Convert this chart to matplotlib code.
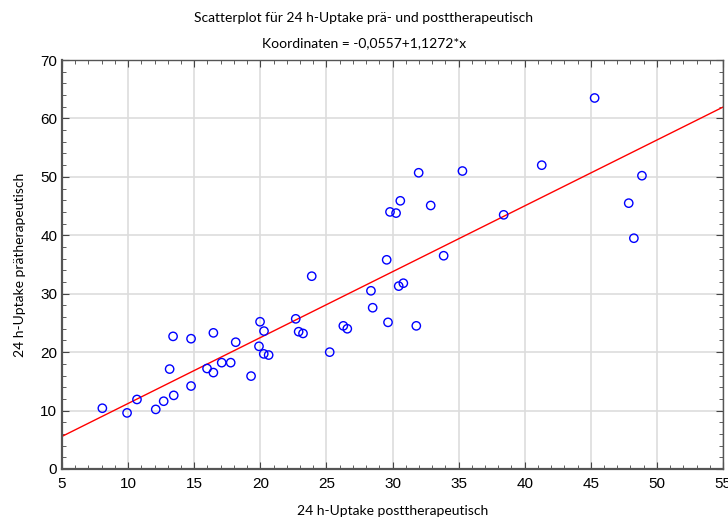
import matplotlib.pyplot as plt
import numpy as np
from matplotlib.ticker import MultipleLocator

# Daten
POST = [8.05, 9.92, 10.67, 12.09, 12.69, 13.45, 13.14, 13.40, 14.76, 14.76,
        15.97, 16.45, 16.45, 17.08, 17.76, 18.14, 19.30, 19.90, 19.98, 20.28,
        20.26, 20.63, 22.68, 22.90, 23.23, 23.89, 25.25, 26.28, 26.58, 28.37,
        28.50, 29.66, 29.56, 29.81, 30.27, 30.59, 30.47, 30.82, 31.80, 31.98,
        32.89, 33.87, 35.29, 38.41, 41.29, 45.29, 47.87, 48.26, 48.87]
PRAE = [10.4, 9.6, 11.9, 10.2, 11.6, 12.6, 17.1, 22.7, 22.3, 14.2,
        17.2, 16.5, 23.3, 18.2, 18.2, 21.7, 15.9, 21.0, 25.2, 23.6,
        19.7, 19.5, 25.7, 23.5, 23.2, 33.0, 20.0, 24.5, 24.0, 30.5,
        27.6, 25.1, 35.8, 44.0, 43.8, 45.9, 31.3, 31.8, 24.5, 50.7,
        45.1, 36.5, 51.0, 43.5, 52.0, 63.5, 45.5, 39.5, 50.2]
ACHSENABSCHNITT = -0.0557
STEIGUNG = 1.1272

fig = plt.figure(figsize=(7.28, 5.2), dpi=100)
ax = fig.add_axes([0.0852, 0.0981, 0.9079, 0.7865])

ax.scatter(POST, PRAE, s=36, facecolors='none', edgecolors='#0000ff', linewidths=1.0, zorder=3)

x_linie = np.array([5, 55])
ax.plot(x_linie, ACHSENABSCHNITT + STEIGUNG * x_linie, color='#ff0000', linewidth=1.0, zorder=2)

ax.set_xlim(5, 55)
ax.set_ylim(0, 70)
ax.xaxis.set_major_locator(MultipleLocator(5))
ax.xaxis.set_minor_locator(MultipleLocator(1))
ax.yaxis.set_major_locator(MultipleLocator(10))
ax.yaxis.set_minor_locator(MultipleLocator(2))
ax.tick_params(which='both', direction='in', top=True, right=True, color='#444444')
ax.tick_params(which='major', length=5, labelsize=11)
ax.tick_params(which='minor', length=3)
for lbl in ax.get_xticklabels() + ax.get_yticklabels():
    lbl.set_family('Liberation Sans')
ax.tick_params(axis='x', pad=6)

ax.grid(True, which='major', color='#dddddd', linewidth=1.2)
ax.set_axisbelow(True)
for s in ax.spines.values():
    s.set_color('#555555')
    s.set_linewidth(1.0)
ax.spines['bottom'].set_linewidth(1.6)
ax.spines['left'].set_linewidth(1.6)

schrift = ['Lato', 'DejaVu Sans']
fig.text(0.5, 0.965, 'Scatterplot für 24 h-Uptake prä- und posttherapeutisch',
         ha='center', va='center', fontsize=10, family=schrift)
fig.text(0.5, 0.917, 'Koordinaten = -0,0557+1,1272*x',
         ha='center', va='center', fontsize=10, family=schrift)
ax.set_xlabel('24 h-Uptake posttherapeutisch', fontsize=10, family=schrift, labelpad=10)
ax.set_ylabel('24 h-Uptake prätherapeutisch', fontsize=10, family=schrift, labelpad=10)

fig.savefig('out.png', dpi=100)
